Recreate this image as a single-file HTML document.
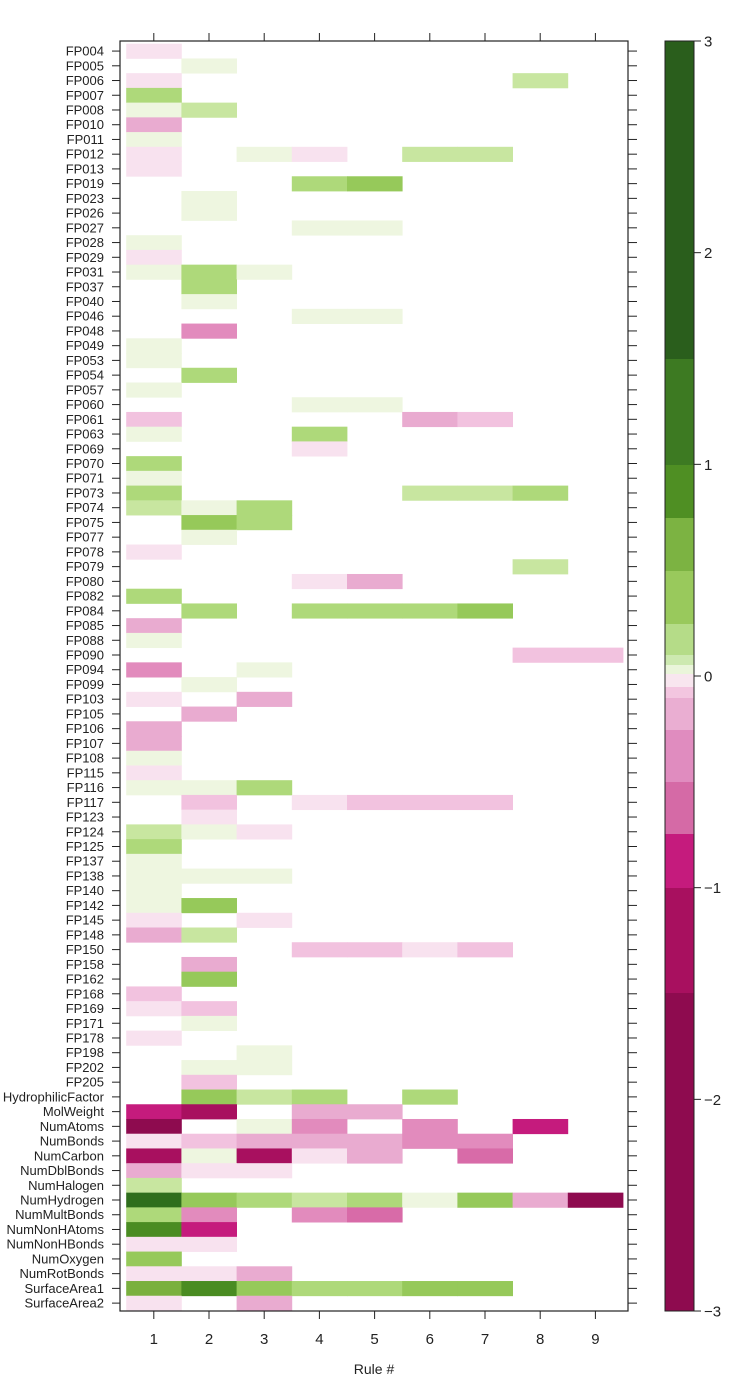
<!DOCTYPE html>
<html><head><meta charset="utf-8"><style>
html,body{margin:0;padding:0;background:#fff;}
svg{display:block;font-family:"Liberation Sans",Arial,sans-serif;}
</style></head><body>
<svg id="s" width="749" height="1375" xmlns="http://www.w3.org/2000/svg"></svg>
<script>
var names=["FP004","FP005","FP006","FP007","FP008","FP010","FP011","FP012","FP013","FP019","FP023","FP026","FP027","FP028","FP029","FP031","FP037","FP040","FP046","FP048","FP049","FP053","FP054","FP057","FP060","FP061","FP063","FP069","FP070","FP071","FP073","FP074","FP075","FP077","FP078","FP079","FP080","FP082","FP084","FP085","FP088","FP090","FP094","FP099","FP103","FP105","FP106","FP107","FP108","FP115","FP116","FP117","FP123","FP124","FP125","FP137","FP138","FP140","FP142","FP145","FP148","FP150","FP158","FP162","FP168","FP169","FP171","FP178","FP198","FP202","FP205","HydrophilicFactor","MolWeight","NumAtoms","NumBonds","NumCarbon","NumDblBonds","NumHalogen","NumHydrogen","NumMultBonds","NumNonHAtoms","NumNonHBonds","NumOxygen","NumRotBonds","SurfaceArea1","SurfaceArea2"];
var data=["1........",".a.......","1......b.","c........","ab.......","3........","a........","1.a1.bb..","1........","...cd....",
".a.......",".a.......","...aa....","a........","1........","aca......",".c.......",".a.......","...aa....",".4.......",
"a........","a........",".c.......","a........","...aa....","2....32..","a..c.....","...1.....","c........","a........",
"c....bbc.","bac......",".dc......",".a.......","1........",".......b.","...13....","c........",".c.cccd..","3........",
"a........",".......22","4.a......",".a.......","1.3......",".3.......","3........","3........","a........","1........",
"aac......",".2.1222..",".1.......","ba1......","c........","a........","aaa......","a........","ad.......","1.1......",
"3b.......","...2212..",".3.......",".d.......","2........","12.......",".a.......","1........","..a......",".aa......",
".2.......",".dbc.c...","67.33....","8.a4.4.6.","1233344..","7a713.5..","311......","b........","gdcbcad38","c4.45....",
"f6.......","11.......","d........","113......","efdccdd..","1.3......"];
var col={a:"#eef6e0",b:"#c8e6a0",c:"#aed97a",d:"#96c95a",e:"#7ab03e",f:"#4a8c22",g:"#2f6e1c",
"1":"#f8e2ef","2":"#f2c2df","3":"#e9abd0","4":"#e28bbd","5":"#d86ba8","6":"#c51b7d","7":"#a8105f","8":"#8e0b4f"};
var L=120,R=628,T=41,B=1311,x0=126.2,cw=55.2,y0=43.7,rh=14.73;
var h='';
for(var i=0;i<86;i++){var y=y0+i*rh;var s=data[i];
 for(var j=0;j<9;j++){var c=s[j];if(c!=='.')h+='<rect x="'+(x0+j*cw).toFixed(2)+'" y="'+y.toFixed(2)+'" width="'+(cw+0.4).toFixed(2)+'" height="'+(rh+0.4).toFixed(2)+'" fill="'+col[c]+'"/>';}
 var yc=y+rh/2;
 h+='<line x1="112" x2="'+L+'" y1="'+yc.toFixed(2)+'" y2="'+yc.toFixed(2)+'" stroke="#222" stroke-width="1"/>';
 h+='<line x1="'+R+'" x2="637" y1="'+yc.toFixed(2)+'" y2="'+yc.toFixed(2)+'" stroke="#222" stroke-width="1"/>';
 h+='<text x="104" y="'+(yc+4.5).toFixed(2)+'" font-size="13" text-anchor="end" fill="#222">'+names[i]+'</text>';}
h+='<rect x="'+L+'" y="'+T+'" width="'+(R-L)+'" height="'+(B-T)+'" fill="none" stroke="#222" stroke-width="1.2"/>';
for(var j=0;j<9;j++){var xc=x0+cw*(j+0.5);
 h+='<line x1="'+xc+'" x2="'+xc+'" y1="'+B+'" y2="'+(B+8)+'" stroke="#222"/>';
 h+='<line x1="'+xc+'" x2="'+xc+'" y1="'+(T-8)+'" y2="'+T+'" stroke="#222"/>';
 h+='<text x="'+xc+'" y="1344" font-size="15" text-anchor="middle" fill="#222">'+(j+1)+'</text>';}
h+='<text x="374" y="1374" font-size="14" text-anchor="middle" fill="#222">Rule #</text>';
var bands=[[41,359,"#2a5e1c"],[359,465,"#3d7a22"],[465,518,"#4f8f23"],[518,571,"#7cb342"],[571,624,"#99c95c"],[624,655,"#b5dc88"],[655,665,"#cde9b0"],[665,674,"#eaf5da"],[674,687,"#f8e6ef"],[687,698,"#f3c6e0"],[698,730,"#eaaed2"],[730,782,"#e08cbf"],[782,834,"#d56aa6"],[834,888,"#c51b7d"],[888,993,"#a8105f"],[993,1311,"#8e0b4f"]];
bands.forEach(function(b){h+='<rect x="665" y="'+b[0]+'" width="29" height="'+(b[1]-b[0]+0.5)+'" fill="'+b[2]+'"/>';});
h+='<rect x="665" y="41" width="29" height="1270" fill="none" stroke="#222" stroke-width="1"/>';
var labs=["3","2","1","0","\u22121","\u22122","\u22123"];
for(var k=0;k<7;k++){var yy=41+k*211.67;
 h+='<line x1="694" x2="701" y1="'+yy+'" y2="'+yy+'" stroke="#222"/>';
 h+='<text x="704" y="'+(yy+5.5)+'" font-size="15" fill="#222">'+labs[k]+'</text>';}
document.getElementById('s').innerHTML=h;
</script>
</body></html>
